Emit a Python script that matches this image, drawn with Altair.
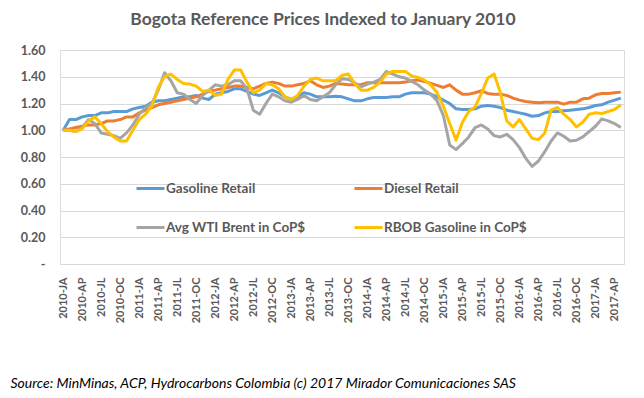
import altair as alt
import pandas as pd

abbr = ["JA", "FE", "MR", "AP", "MY", "JN", "JL", "AU", "SE", "OC", "NO", "DE"]
months = [f"{y}-{m}" for y in range(2010, 2018) for m in abbr][:89]
tick_labels = months[::3]

series_names = ["Gasoline Retail", "Diesel Retail", "Avg WTI Brent in CoP$", "RBOB Gasoline in CoP$"]
colors = ["#5B9BD5", "#ED7D31", "#A5A5A5", "#FFC000"]

gasoline = [
    1.00, 1.08, 1.08, 1.10, 1.11, 1.11, 1.13, 1.13, 1.14, 1.14,
    1.14, 1.16, 1.17, 1.18, 1.21, 1.22, 1.22, 1.23, 1.24, 1.25,
    1.25, 1.26, 1.24, 1.23, 1.27, 1.28, 1.29, 1.31, 1.31, 1.29,
    1.27, 1.26, 1.28, 1.30, 1.28, 1.25, 1.23, 1.25, 1.28, 1.27,
    1.25, 1.25, 1.25, 1.255, 1.25, 1.235, 1.22, 1.22, 1.235, 1.245,
    1.245, 1.245, 1.25, 1.25, 1.27, 1.28, 1.28, 1.28, 1.27, 1.25,
    1.225, 1.20, 1.16, 1.155, 1.155, 1.16, 1.18, 1.185, 1.18, 1.17,
    1.15, 1.14, 1.13, 1.12, 1.105, 1.11, 1.13, 1.14, 1.14, 1.145,
    1.15, 1.155, 1.16, 1.17, 1.185, 1.19, 1.21, 1.225, 1.24]

diesel = [
    1.00, 1.01, 1.02, 1.03, 1.04, 1.04, 1.05, 1.07, 1.07, 1.08,
    1.10, 1.10, 1.13, 1.15, 1.17, 1.19, 1.20, 1.21, 1.22, 1.23,
    1.24, 1.25, 1.27, 1.29, 1.30, 1.31, 1.32, 1.33, 1.33, 1.32,
    1.31, 1.33, 1.35, 1.36, 1.35, 1.33, 1.33, 1.34, 1.35, 1.37,
    1.34, 1.32, 1.33, 1.35, 1.345, 1.34, 1.34, 1.34, 1.355, 1.355,
    1.355, 1.355, 1.355, 1.355, 1.36, 1.37, 1.375, 1.365, 1.35, 1.335,
    1.32, 1.34, 1.30, 1.27, 1.27, 1.28, 1.295, 1.275, 1.27, 1.27,
    1.26, 1.24, 1.225, 1.215, 1.21, 1.205, 1.21, 1.21, 1.21, 1.195,
    1.21, 1.21, 1.235, 1.24, 1.265, 1.275, 1.275, 1.28, 1.285]

wti = [
    1.00, 1.00, 0.99, 1.02, 1.08, 1.05, 0.98, 0.97, 0.96, 0.94,
    0.98, 1.04, 1.12, 1.17, 1.20, 1.30, 1.43, 1.37, 1.28, 1.27,
    1.23, 1.20, 1.26, 1.30, 1.34, 1.33, 1.34, 1.37, 1.37, 1.31,
    1.15, 1.12, 1.20, 1.27, 1.25, 1.22, 1.21, 1.23, 1.26, 1.23,
    1.22, 1.25, 1.28, 1.34, 1.385, 1.38, 1.355, 1.325, 1.345, 1.36,
    1.38, 1.44, 1.42, 1.40, 1.39, 1.365, 1.34, 1.30, 1.27, 1.22,
    1.11, 0.89, 0.855, 0.90, 0.95, 1.02, 1.04, 1.01, 0.96, 0.95,
    0.97, 0.93, 0.87, 0.79, 0.73, 0.77, 0.84, 0.92, 0.98, 0.955,
    0.92, 0.925, 0.95, 0.99, 1.03, 1.085, 1.07, 1.05, 1.02]

rbob = [
    1.00, 1.00, 0.99, 1.01, 1.07, 1.10, 1.05, 0.99, 0.95, 0.92,
    0.92, 1.00, 1.08, 1.12, 1.18, 1.32, 1.40, 1.42, 1.38, 1.35,
    1.345, 1.33, 1.29, 1.30, 1.26, 1.27, 1.38, 1.45, 1.45, 1.36,
    1.28, 1.30, 1.35, 1.34, 1.31, 1.25, 1.23, 1.26, 1.33, 1.38,
    1.39, 1.37, 1.37, 1.37, 1.41, 1.42, 1.35, 1.30, 1.30, 1.32,
    1.36, 1.42, 1.44, 1.44, 1.44, 1.405, 1.395, 1.375, 1.34, 1.28,
    1.18, 1.05, 0.925, 1.06, 1.14, 1.175, 1.275, 1.39, 1.42, 1.28,
    1.07, 1.025, 1.08, 1.01, 0.94, 0.93, 0.98, 1.15, 1.17, 1.12,
    1.08, 1.025, 1.06, 1.12, 1.13, 1.125, 1.14, 1.155, 1.19]

y_ticks = [0, 0.2, 0.4, 0.6, 0.8, 1.0, 1.2, 1.4, 1.6]

rows = []
for name, vals in zip(series_names, [gasoline, diesel, wti, rbob]):
    for m, v in zip(months, vals):
        rows.append({"month": m, "series": name, "value": v})
df = pd.DataFrame(rows)

FONT = "Lato"
GREY = "#595959"

chart = alt.Chart(df).mark_line(strokeWidth=3, strokeJoin="round").encode(
    x=alt.X("month:N", sort=months,
            scale=alt.Scale(type="point", padding=0.5),
            axis=alt.Axis(values=tick_labels, labelAngle=270, labelFont=FONT,
                          labelFontWeight="bold", labelFontSize=11, labelColor=GREY,
                          ticks=False, domain=False, grid=False, labelPadding=13,
                          title="Source: MinMinas, ACP, Hydrocarbons Colombia (c) 2017 Mirador Comunicaciones SAS",
                          titleFont=FONT, titleFontStyle="italic", titleFontWeight="normal",
                          titleFontSize=14, titleColor="#000000", titleAnchor="start",
                          titleAlign="left", titleX=-50, titleY=119, titleBaseline="middle")),
    y=alt.Y("value:Q", scale=alt.Scale(domain=[0, 1.6], nice=False),
            axis=alt.Axis(values=y_ticks, title=None, domain=False, ticks=False,
                          gridColor="#D9D9D9", gridWidth=1, labelPadding=15,
                          labelFont=FONT, labelFontWeight="bold", labelFontSize=12.5,
                          labelColor=GREY,
                          labelExpr="datum.value == 0 ? '-\u00a0\u00a0\u00a0' : format(datum.value, '.2f')")),
    color=alt.Color("series:N", sort=series_names,
                    scale=alt.Scale(domain=series_names, range=colors),
                    legend=alt.Legend(title=None, orient="none", legendX=75, legendY=123,
                                      direction="horizontal",
                                      columns=2, columnPadding=42, rowPadding=17,
                                      symbolType="stroke", symbolStrokeWidth=3, symbolSize=784,
                                      labelFont=FONT, labelFontWeight="bold", labelFontSize=13.5,
                                      labelColor=GREY, labelOffset=0)),
).properties(
    width=564, height=214,
    autosize=alt.AutoSizeParams(type="none"),
    padding={"left": 52, "top": 42, "right": 12, "bottom": 126},
    title=alt.Title("Bogota Reference Prices Indexed to January 2010", font=FONT,
                    fontSize=17.5, fontWeight="bold", color=GREY, anchor="middle",
                    frame="group", dx=-19, offset=16),
).configure_view(stroke=None).configure(background="white")

chart.save("out.html", embed_options={"renderer": "svg", "actions": False})
